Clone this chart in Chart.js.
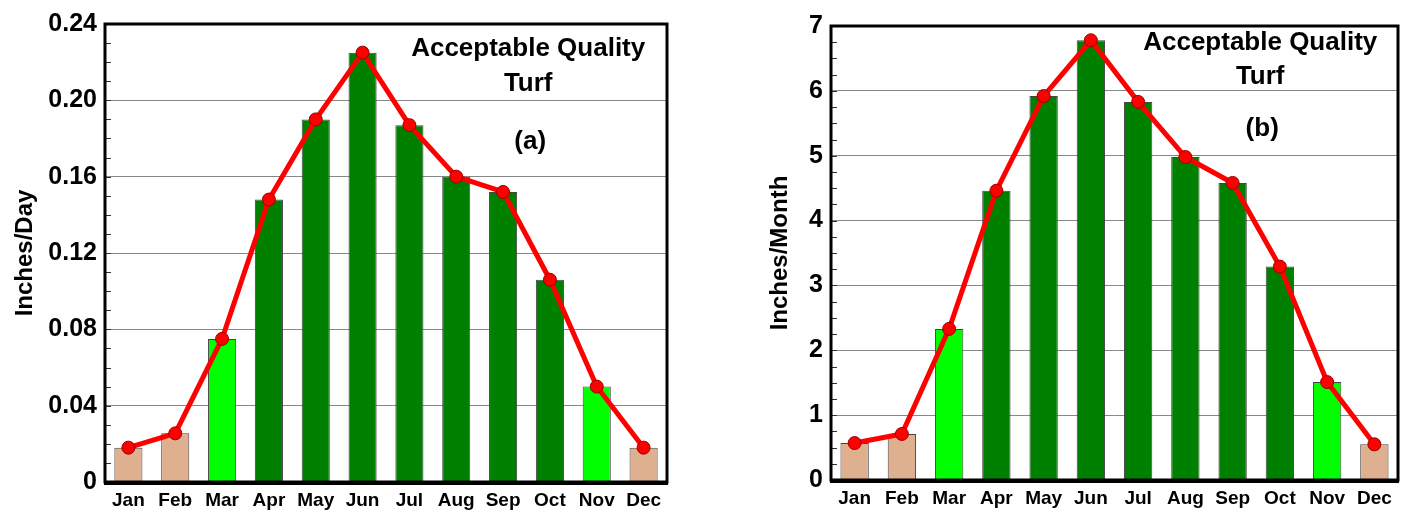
<!DOCTYPE html>
<html>
<head>
<meta charset="utf-8">
<script src="https://cdn.jsdelivr.net/npm/chart.js@4.4.1/dist/chart.umd.min.js"></script>
<style>
html,body{margin:0;padding:0;background:#fff;width:1408px;height:510px;overflow:hidden;}
.box{position:absolute;top:0;height:510px;}
</style>
</head>
<body>
<div class="box" style="left:0;width:690px;"><canvas id="dayChart" width="690" height="510"></canvas></div>
<div class="box" style="left:740px;width:668px;"><canvas id="monthChart" width="668" height="510"></canvas></div>
<script>
// months and estimated water use
const months=['Jan','Feb','Mar','Apr','May','Jun','Jul','Aug','Sep','Oct','Nov','Dec'];
const inchesPerDay=[0.018,0.0255,0.075,0.148,0.190,0.225,0.187,0.160,0.152,0.106,0.050,0.018];
const inchesPerMonth=[0.57,0.71,2.33,4.46,5.92,6.78,5.83,4.98,4.58,3.29,1.51,0.55];
const barColors=['#dfb08f','#dfb08f','#00ff00','#008000','#008000','#008000','#008000','#008000','#008000','#008000','#00ff00','#dfb08f'];
const textLines=['Acceptable Quality','Turf'];

const FONT="'Liberation Sans', Arial, sans-serif";

// frame, minor ticks and the text in the plot
const extras={
id:'extras',
afterDatasetsDraw(chart,args,opts){
const ctx=chart.ctx;
const a=chart.chartArea;
const y=chart.scales.y;
ctx.save();
// minor ticks
ctx.strokeStyle='#333';
ctx.lineWidth=1;
for(let v=y.min;v<=y.max+1e-9;v+=opts.minor){
const py=Math.round(y.getPixelForValue(v))+0.5;
ctx.beginPath();
ctx.moveTo(a.left,py);
ctx.lineTo(a.left+6,py);
ctx.stroke();
}
// frame
ctx.strokeStyle='#000';
ctx.lineWidth=3;
ctx.strokeRect(a.left,a.top,a.right-a.left,a.bottom-a.top);
ctx.lineWidth=4;
ctx.beginPath();
ctx.moveTo(a.left-1,a.bottom+1);
ctx.lineTo(a.right+1,a.bottom+1);
ctx.stroke();
// text
ctx.fillStyle='#000';
ctx.textAlign='center';
ctx.textBaseline='middle';
ctx.font='bold 26px '+FONT;
const cx=a.left+(a.right-a.left)*opts.cx;
ctx.fillText(textLines[0],cx,a.top+opts.ys[0]);
ctx.fillText(textLines[1],cx,a.top+opts.ys[1]);
ctx.fillText(opts.tag,cx+2,a.top+opts.ys[2]);
ctx.restore();
}
};

function makeChart(id,values,yMax,yStep,title,tickFmt,lay,text){
return new Chart(document.getElementById(id),{
type:'bar',
data:{
labels:months,
datasets:[
{
type:'line',
data:values,
order:0,
borderColor:'#ff0000',
borderWidth:5,
pointRadius:6.5,
pointBackgroundColor:'#ff0000',
pointBorderColor:'#990000',
pointBorderWidth:1,
tension:0
},
{
type:'bar',
data:values,
order:1,
backgroundColor:barColors,
borderColor:'#444',
borderWidth:1,
barPercentage:0.6,
categoryPercentage:1
}
]
},
options:{
responsive:false,
animation:false,
devicePixelRatio:1,
layout:{padding:{left:0,right:lay.right,top:lay.top,bottom:0}},
plugins:{legend:{display:false},tooltip:{enabled:false},extras:text},
scales:{
x:{
grid:{display:false,drawTicks:false},
border:{display:false},
ticks:{color:'#000',padding:7,font:{family:FONT,size:19,weight:'bold'},maxRotation:0},
afterFit(s){s.height=lay.xh;}
},
y:{
min:0,max:yMax,
grid:{color:'#888',lineWidth:1,drawTicks:false},
border:{display:false},
ticks:{stepSize:yStep,color:'#000',padding:8,font:{family:FONT,size:25,weight:'bold'},callback:tickFmt},
title:{display:true,text:title,color:'#000',font:{family:FONT,size:24,weight:'bold'},padding:{top:lay.titlePad,bottom:0}},
afterFit(s){s.width=lay.yw;}
}
}
},
plugins:[extras]
});
}

makeChart('dayChart',inchesPerDay,0.24,0.04,'Inches/Day',
v=>v===0?'0':v.toFixed(2),
{right:23,top:24,xh:28,yw:105,titlePad:11},
{minor:0.01,cx:0.753,ys:[25,60,118],tag:'(a)'});

makeChart('monthChart',inchesPerMonth,7,1,'Inches/Month',
v=>String(Math.round(v)),
{right:10,top:26,xh:30,yw:91,titlePad:26},
{minor:0.25,cx:0.757,ys:[17,51,103],tag:'(b)'});
</script>
</body>
</html>
